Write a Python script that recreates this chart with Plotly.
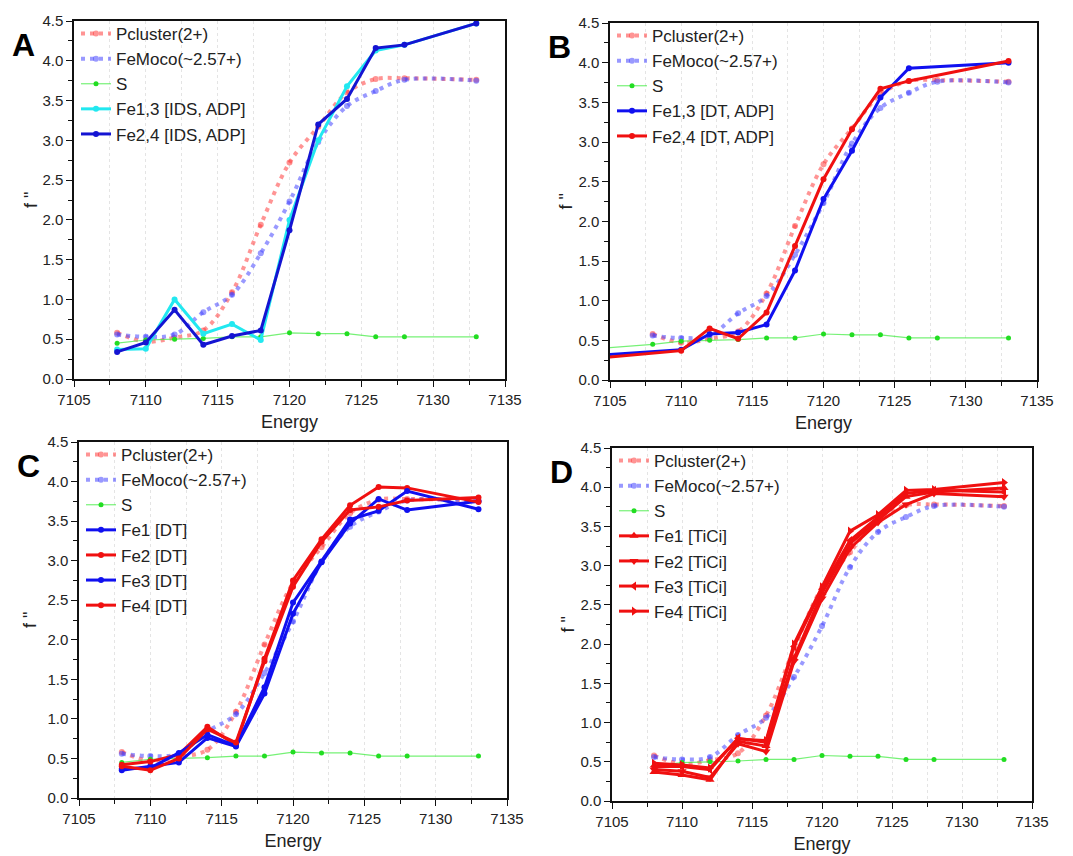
import plotly.graph_objects as go

# ---------------- data ----------------
energy = [7108, 7110, 7112, 7114, 7116, 7118, 7120, 7122, 7124, 7126, 7128, 7133]

pcluster = [0.58, 0.47, 0.52, 0.61, 1.09, 1.94, 2.72, 3.17, 3.60, 3.77, 3.78, 3.76]
femoco = [0.56, 0.53, 0.56, 0.84, 1.06, 1.58, 2.23, 2.98, 3.43, 3.62, 3.76, 3.75]
sulfur = [0.45, 0.49, 0.50, 0.51, 0.53, 0.53, 0.58, 0.57, 0.57, 0.53, 0.53, 0.53]

# Panel A
a_fe13 = [0.37, 0.38, 1.00, 0.57, 0.69, 0.49, 2.00, 3.00, 3.68, 4.13, 4.20, 4.47]
a_fe24 = [0.34, 0.46, 0.87, 0.43, 0.54, 0.61, 1.87, 3.20, 3.52, 4.16, 4.20, 4.47]

# Panel B (series start before the visible range)
b_energy = [7100, 7110, 7112, 7114, 7116, 7118, 7120, 7122, 7124, 7126, 7133]
b_fe13 = [0.26, 0.38, 0.58, 0.60, 0.70, 1.38, 2.28, 2.89, 3.56, 3.93, 4.00]
b_fe24 = [0.21, 0.37, 0.65, 0.52, 0.85, 1.69, 2.53, 3.16, 3.67, 3.77, 4.02]
b_s_energy = [7100] + energy
b_sulfur = [0.34] + sulfur

# Panel C
c_fe1 = [0.35, 0.40, 0.45, 0.76, 0.65, 1.32, 2.33, 2.98, 3.47, 3.78, 3.64, 3.75]
c_fe2 = [0.42, 0.46, 0.55, 0.90, 0.67, 1.76, 2.75, 3.27, 3.70, 3.93, 3.92, 3.74]
c_fe3 = [0.37, 0.38, 0.57, 0.80, 0.66, 1.40, 2.47, 2.99, 3.52, 3.63, 3.88, 3.65]
c_fe4 = [0.40, 0.35, 0.50, 0.87, 0.70, 1.73, 2.67, 3.24, 3.64, 3.68, 3.76, 3.80]

# Panel D
d_fe1 = [0.37, 0.33, 0.27, 0.76, 0.70, 1.82, 2.65, 3.28, 3.58, 3.88, 3.94, 3.99]
d_fe2 = [0.40, 0.38, 0.30, 0.73, 0.63, 1.78, 2.58, 3.22, 3.55, 3.78, 3.92, 3.88]
d_fe3 = [0.44, 0.44, 0.40, 0.80, 0.75, 1.97, 2.70, 3.32, 3.62, 3.92, 3.96, 3.94]
d_fe4 = [0.48, 0.46, 0.42, 0.79, 0.77, 2.00, 2.73, 3.44, 3.65, 3.96, 3.97, 4.06]

panel_labels = ["A", "B", "C", "D"]
y_title = 'f "'
x_title = "Energy"

# ---------------- layout geometry ----------------
W, H = 1073, 856
OFF = 8  # page body margin offset
# (left, right, top, bottom) in screen pixels
boxes = [(74, 505, 21, 379), (610, 1037, 23, 380), (79, 507, 442, 798), (612, 1032, 448, 801)]
ytitle_x = [31, 566, 30, 567]


def px_x(p):
    return (p - OFF) / W


def px_y(p):
    return 1 - (p - OFF) / H


RED_DOT = "rgba(255,60,60,0.55)"
BLUE_DOT = "rgba(70,70,255,0.55)"
S_LINE = "rgba(60,235,60,0.7)"
S_MARK = "#22dd22"

fig = go.Figure()


def ref_traces(idx, s_x=energy, s_y=sulfur):
    xa = "x" if idx == 1 else f"x{idx}"
    ya = "y" if idx == 1 else f"y{idx}"
    lg = "legend" if idx == 1 else f"legend{idx}"
    fig.add_trace(go.Scatter(x=energy, y=pcluster, name="Pcluster(2+)", xaxis=xa, yaxis=ya, legend=lg,
                             mode="lines+markers", line=dict(color=RED_DOT, width=4, dash="4px,5px", shape="spline"),
                             marker=dict(color=RED_DOT, size=6)))
    fig.add_trace(go.Scatter(x=energy, y=femoco, name="FeMoco(~2.57+)", xaxis=xa, yaxis=ya, legend=lg,
                             mode="lines+markers", line=dict(color=BLUE_DOT, width=4, dash="4px,5px", shape="spline"),
                             marker=dict(color=BLUE_DOT, size=6)))
    fig.add_trace(go.Scatter(x=s_x, y=s_y, name="S", xaxis=xa, yaxis=ya, legend=lg,
                             mode="lines+markers", line=dict(color=S_LINE, width=1.2),
                             marker=dict(color=S_MARK, size=5)))


def fe_trace(idx, x, y, name, color, symbol="circle", size=6):
    xa = "x" if idx == 1 else f"x{idx}"
    ya = "y" if idx == 1 else f"y{idx}"
    lg = "legend" if idx == 1 else f"legend{idx}"
    fig.add_trace(go.Scatter(x=x, y=y, name=name, xaxis=xa, yaxis=ya, legend=lg,
                             mode="lines+markers", line=dict(color=color, width=3),
                             marker=dict(color=color, size=size, symbol=symbol)))


# Panel A
ref_traces(1)
fe_trace(1, energy, a_fe13, "Fe1,3 [IDS, ADP]", "#22e8f0")
fe_trace(1, energy, a_fe24, "Fe2,4 [IDS, ADP]", "#1414d2")
# Panel B
ref_traces(2, b_s_energy, b_sulfur)
fe_trace(2, b_energy, b_fe13, "Fe1,3 [DT, ADP]", "#1010f0")
fe_trace(2, b_energy, b_fe24, "Fe2,4 [DT, ADP]", "#f01010")
# Panel C
ref_traces(3)
fe_trace(3, energy, c_fe1, "Fe1 [DT]", "#1010f0")
fe_trace(3, energy, c_fe2, "Fe2 [DT]", "#f01010")
fe_trace(3, energy, c_fe3, "Fe3 [DT]", "#1010f0")
fe_trace(3, energy, c_fe4, "Fe4 [DT]", "#f01010")
# Panel D
ref_traces(4)
fe_trace(4, energy, d_fe1, "Fe1 [TiCi]", "#f01010", "triangle-up", 8)
fe_trace(4, energy, d_fe2, "Fe2 [TiCi]", "#f01010", "triangle-down", 8)
fe_trace(4, energy, d_fe3, "Fe3 [TiCi]", "#f01010", "triangle-left", 8)
fe_trace(4, energy, d_fe4, "Fe4 [TiCi]", "#f01010", "triangle-right", 8)

layout = dict(width=W, height=H, margin=dict(l=0, r=0, t=0, b=0, autoexpand=False),
              paper_bgcolor="white", plot_bgcolor="white",
              font=dict(family="Arial, Liberation Sans, sans-serif", color="#222"),
              showlegend=True)

annotations = []
for i, (l, r, t, b) in enumerate(boxes, start=1):
    sfx = "" if i == 1 else str(i)
    xd = [px_x(l), px_x(r)]
    yd = [px_y(b), px_y(t)]
    layout["xaxis" + sfx] = dict(
        domain=xd, anchor="y" + sfx, range=[7105, 7135], dtick=5, tick0=7105,
        automargin=True,
        showline=True, linecolor="#111", linewidth=1.5, mirror=True,
        ticks="outside", ticklen=6, tickwidth=1.2, tickcolor="#111",
        tickfont=dict(size=15, color="#222"),
        showgrid=True, gridcolor="#e4e4e4", gridwidth=1, griddash="dot",
        minor=dict(dtick=2.5, tick0=7105, ticks="outside", ticklen=4, tickcolor="#111",
                   showgrid=True, gridcolor="#e4e4e4", griddash="dot"),
        title=dict(text=x_title, font=dict(size=18, color="#222"), standoff=9),
        zeroline=False,
    )
    layout["yaxis" + sfx] = dict(
        domain=yd, anchor="x" + sfx, range=[0, 4.5], dtick=0.5, tick0=0, tickformat=".1f",
        automargin=False,
        showline=True, linecolor="#111", linewidth=1.5, mirror=True,
        ticks="outside", ticklen=6, tickwidth=1.2, tickcolor="#111",
        tickfont=dict(size=15, color="#222"),
        showgrid=False, zeroline=False,
        minor=dict(dtick=0.25, tick0=0, ticks="outside", ticklen=4, tickcolor="#111"),
    )
    layout["legend" + sfx] = dict(
        x=px_x(l + 2), y=px_y(t - 5), xref="paper", yref="paper",
        xanchor="left", yanchor="top", bgcolor="rgba(0,0,0,0)", borderwidth=0,
        font=dict(size=17, color="#222"), tracegroupgap=0, itemwidth=30,
    )
    annotations.append(dict(text=f"<b>{panel_labels[i-1]}</b>", x=px_x(l - 64), y=px_y(t + 24),
                            xref="paper", yref="paper", xanchor="left", yanchor="middle",
                            showarrow=False, font=dict(size=32, color="black")))
    annotations.append(dict(text=y_title, textangle=-90, x=px_x(ytitle_x[i-1]), y=(yd[0] + yd[1]) / 2,
                            xref="paper", yref="paper", xanchor="center", yanchor="middle",
                            showarrow=False, font=dict(size=18, color="#222")))
layout["annotations"] = annotations
fig.update_layout(**layout)

fig.write_html("out.html")
